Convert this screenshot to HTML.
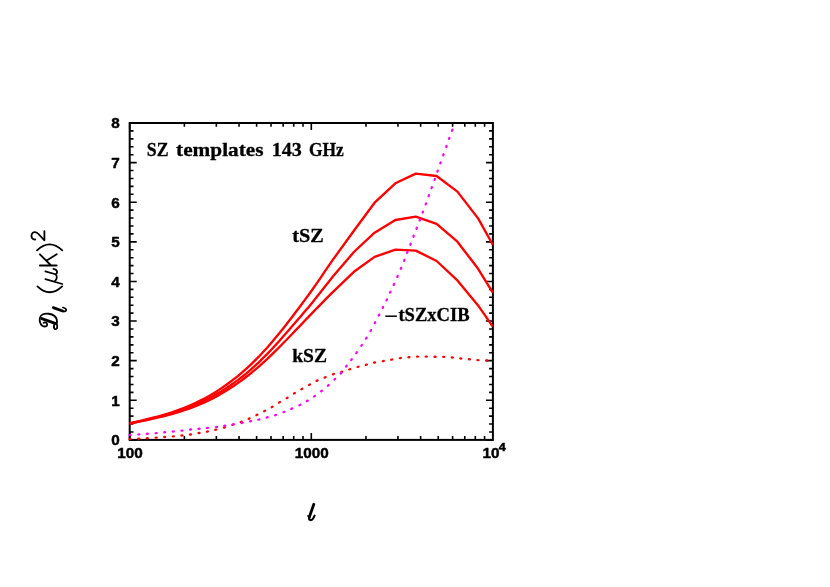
<!DOCTYPE html>
<html><head><meta charset="utf-8"><title>SZ templates 143 GHz</title>
<style>html,body{margin:0;padding:0;background:#fff;}body{width:830px;height:587px;overflow:hidden;font-family:"Liberation Sans",sans-serif;}</style>
</head><body>
<svg width="830" height="587" viewBox="0 0 830 587" style="display:block;will-change:transform;transform:translateZ(0)"><rect width="830" height="587" fill="#fff"/><g stroke="#000" fill="none">
<path d="M129.7,439.90h7.0 M492.9,439.90h-7.0 M129.7,431.98h3.8 M492.9,431.98h-3.8 M129.7,424.05h3.8 M492.9,424.05h-3.8 M129.7,416.13h3.8 M492.9,416.13h-3.8 M129.7,408.21h3.8 M492.9,408.21h-3.8 M129.7,400.29h7.0 M492.9,400.29h-7.0 M129.7,392.36h3.8 M492.9,392.36h-3.8 M129.7,384.44h3.8 M492.9,384.44h-3.8 M129.7,376.52h3.8 M492.9,376.52h-3.8 M129.7,368.60h3.8 M492.9,368.60h-3.8 M129.7,360.67h7.0 M492.9,360.67h-7.0 M129.7,352.75h3.8 M492.9,352.75h-3.8 M129.7,344.83h3.8 M492.9,344.83h-3.8 M129.7,336.91h3.8 M492.9,336.91h-3.8 M129.7,328.98h3.8 M492.9,328.98h-3.8 M129.7,321.06h7.0 M492.9,321.06h-7.0 M129.7,313.14h3.8 M492.9,313.14h-3.8 M129.7,305.22h3.8 M492.9,305.22h-3.8 M129.7,297.29h3.8 M492.9,297.29h-3.8 M129.7,289.37h3.8 M492.9,289.37h-3.8 M129.7,281.45h7.0 M492.9,281.45h-7.0 M129.7,273.53h3.8 M492.9,273.53h-3.8 M129.7,265.61h3.8 M492.9,265.61h-3.8 M129.7,257.68h3.8 M492.9,257.68h-3.8 M129.7,249.76h3.8 M492.9,249.76h-3.8 M129.7,241.84h7.0 M492.9,241.84h-7.0 M129.7,233.91h3.8 M492.9,233.91h-3.8 M129.7,225.99h3.8 M492.9,225.99h-3.8 M129.7,218.07h3.8 M492.9,218.07h-3.8 M129.7,210.15h3.8 M492.9,210.15h-3.8 M129.7,202.22h7.0 M492.9,202.22h-7.0 M129.7,194.30h3.8 M492.9,194.30h-3.8 M129.7,186.38h3.8 M492.9,186.38h-3.8 M129.7,178.46h3.8 M492.9,178.46h-3.8 M129.7,170.53h3.8 M492.9,170.53h-3.8 M129.7,162.61h7.0 M492.9,162.61h-7.0 M129.7,154.69h3.8 M492.9,154.69h-3.8 M129.7,146.77h3.8 M492.9,146.77h-3.8 M129.7,138.84h3.8 M492.9,138.84h-3.8 M129.7,130.92h3.8 M492.9,130.92h-3.8 M129.7,123.00h7.0 M492.9,123.00h-7.0 M129.70,439.9v-7.0 M129.70,123.0v7.0 M184.37,439.9v-3.8 M184.37,123.0v3.8 M216.35,439.9v-3.8 M216.35,123.0v3.8 M239.03,439.9v-3.8 M239.03,123.0v3.8 M256.63,439.9v-3.8 M256.63,123.0v3.8 M271.01,439.9v-3.8 M271.01,123.0v3.8 M283.17,439.9v-3.8 M283.17,123.0v3.8 M293.70,439.9v-3.8 M293.70,123.0v3.8 M302.99,439.9v-3.8 M302.99,123.0v3.8 M311.30,439.9v-7.0 M311.30,123.0v7.0 M365.97,439.9v-3.8 M365.97,123.0v3.8 M397.95,439.9v-3.8 M397.95,123.0v3.8 M420.63,439.9v-3.8 M420.63,123.0v3.8 M438.23,439.9v-3.8 M438.23,123.0v3.8 M452.61,439.9v-3.8 M452.61,123.0v3.8 M464.77,439.9v-3.8 M464.77,123.0v3.8 M475.30,439.9v-3.8 M475.30,123.0v3.8 M484.59,439.9v-3.8 M484.59,123.0v3.8" stroke-width="1.6"/>
<rect x="129.7" y="123.0" width="363.2" height="316.9" stroke-width="2.0"/>
</g>
<g fill="none" stroke="#ff0000" stroke-width="2.35" stroke-linejoin="round" stroke-linecap="butt">
<path d="M129.7,423.4 L134.0,422.4 L138.3,421.3 L142.7,420.3 L147.0,419.2 L151.1,418.2 L155.3,417.1 L159.4,416.1 L163.6,414.9 L167.7,413.7 L171.8,412.4 L176.0,410.9 L180.1,409.4 L184.3,407.8 L188.4,406.1 L192.5,404.3 L196.7,402.4 L200.8,400.3 L205.0,398.2 L209.1,395.9 L213.2,393.5 L217.4,390.9 L221.5,388.1 L225.7,385.2 L229.8,382.2 L233.9,379.1 L238.1,375.8 L242.2,372.3 L246.4,368.7 L250.5,364.9 L254.6,360.9 L258.8,356.7 L262.9,352.3 L267.1,347.7 L271.2,343.0 L275.3,338.1 L279.5,333.1 L283.6,327.9 L287.8,322.6 L291.9,317.2 L296.0,311.8 L300.2,306.3 L304.3,300.6 L308.5,295.0 L312.6,289.2 L316.7,283.3 L320.9,277.3 L325.0,271.2 L329.2,265.1 L333.3,259.2 L353.9,230.7 L374.6,202.7 L395.4,183.3 L415.8,173.6 L436.6,176.0 L457.4,191.6 L478.1,218.4 L492.8,244.7"/>
<path d="M129.7,423.5 L134.0,422.5 L138.3,421.6 L142.7,420.6 L147.0,419.6 L151.1,418.6 L155.3,417.6 L159.4,416.6 L163.6,415.5 L167.7,414.4 L171.8,413.2 L176.0,411.9 L180.1,410.5 L184.3,409.0 L188.4,407.5 L192.5,405.9 L196.7,404.1 L200.8,402.2 L205.0,400.3 L209.1,398.2 L213.2,396.0 L217.4,393.6 L221.5,391.2 L225.7,388.5 L229.8,385.8 L233.9,382.9 L238.1,379.9 L242.2,376.7 L246.4,373.3 L250.5,369.8 L254.6,366.1 L258.8,362.3 L262.9,358.2 L267.1,354.1 L271.2,349.8 L275.3,345.4 L279.5,340.8 L283.6,336.1 L287.8,331.3 L291.9,326.5 L296.0,321.7 L300.2,316.9 L304.3,312.1 L308.5,307.2 L312.6,302.2 L316.7,297.1 L320.9,291.8 L325.0,286.5 L329.2,281.2 L333.3,276.1 L353.9,252.0 L374.6,232.7 L395.4,220.0 L415.8,216.7 L436.6,223.8 L457.4,241.7 L478.1,268.8 L492.8,292.6"/>
<path d="M129.7,423.6 L134.0,422.7 L138.3,421.8 L142.7,420.9 L147.0,420.0 L151.1,419.1 L155.3,418.2 L159.4,417.2 L163.6,416.3 L167.7,415.2 L171.8,414.1 L176.0,412.9 L180.1,411.6 L184.3,410.2 L188.4,408.8 L192.5,407.3 L196.7,405.7 L200.8,404.0 L205.0,402.1 L209.1,400.2 L213.2,398.1 L217.4,395.9 L221.5,393.6 L225.7,391.1 L229.8,388.5 L233.9,385.8 L238.1,382.9 L242.2,380.0 L246.4,376.8 L250.5,373.6 L254.6,370.2 L258.8,366.6 L262.9,362.9 L267.1,359.1 L271.2,355.2 L275.3,351.2 L279.5,347.0 L283.6,342.8 L287.8,338.5 L291.9,334.2 L296.0,329.9 L300.2,325.6 L304.3,321.2 L308.5,316.9 L312.6,312.6 L316.7,308.3 L320.9,304.1 L325.0,299.9 L329.2,295.7 L333.3,291.6 L353.9,271.8 L374.6,256.9 L395.4,249.7 L415.8,250.6 L436.6,261.0 L457.4,280.4 L478.1,305.4 L492.8,326.7"/>
</g>
<g fill="#ff0000"><ellipse cx="130.1" cy="439.1" rx="1.7" ry="1.2" transform="rotate(-2.6 130.1 439.1)"/><ellipse cx="138.8" cy="438.7" rx="1.7" ry="1.2" transform="rotate(-3.0 138.8 438.7)"/><ellipse cx="147.3" cy="438.2" rx="1.7" ry="1.2" transform="rotate(-3.6 147.3 438.2)"/><ellipse cx="156.1" cy="437.6" rx="1.7" ry="1.2" transform="rotate(-4.0 156.1 437.6)"/><ellipse cx="164.6" cy="437.0" rx="1.7" ry="1.2" transform="rotate(-4.0 164.6 437.0)"/><ellipse cx="173.3" cy="436.4" rx="1.7" ry="1.2" transform="rotate(-5.0 173.3 436.4)"/><ellipse cx="181.9" cy="435.5" rx="1.7" ry="1.2" transform="rotate(-6.3 181.9 435.5)"/><ellipse cx="190.5" cy="434.5" rx="1.7" ry="1.2" transform="rotate(-8.3 190.5 434.5)"/><ellipse cx="199.0" cy="433.0" rx="1.7" ry="1.2" transform="rotate(-9.7 199.0 433.0)"/><ellipse cx="207.4" cy="431.6" rx="1.7" ry="1.2" transform="rotate(-11.1 207.4 431.6)"/><ellipse cx="215.8" cy="429.7" rx="1.7" ry="1.2" transform="rotate(-13.6 215.8 429.7)"/><ellipse cx="224.4" cy="427.5" rx="1.7" ry="1.2" transform="rotate(-16.7 224.4 427.5)"/><ellipse cx="232.8" cy="424.6" rx="1.7" ry="1.2" transform="rotate(-18.4 232.8 424.6)"/><ellipse cx="241.2" cy="421.9" rx="1.7" ry="1.2" transform="rotate(-20.2 241.2 421.9)"/><ellipse cx="249.1" cy="418.6" rx="1.7" ry="1.2" transform="rotate(-24.0 249.1 418.6)"/><ellipse cx="256.9" cy="414.9" rx="1.7" ry="1.2" transform="rotate(-26.1 256.9 414.9)"/><ellipse cx="264.6" cy="411.0" rx="1.7" ry="1.2" transform="rotate(-27.5 264.6 411.0)"/><ellipse cx="272.1" cy="407.0" rx="1.7" ry="1.2" transform="rotate(-30.3 272.1 407.0)"/><ellipse cx="279.5" cy="402.3" rx="1.7" ry="1.2" transform="rotate(-31.2 279.5 402.3)"/><ellipse cx="287.1" cy="397.9" rx="1.7" ry="1.2" transform="rotate(-31.4 287.1 397.9)"/><ellipse cx="294.4" cy="393.2" rx="1.7" ry="1.2" transform="rotate(-31.2 294.4 393.2)"/><ellipse cx="301.8" cy="389.0" rx="1.7" ry="1.2" transform="rotate(-29.4 301.8 389.0)"/><ellipse cx="309.5" cy="384.7" rx="1.7" ry="1.2" transform="rotate(-28.5 309.5 384.7)"/><ellipse cx="317.1" cy="380.7" rx="1.7" ry="1.2" transform="rotate(-25.4 317.1 380.7)"/><ellipse cx="325.1" cy="377.3" rx="1.7" ry="1.2" transform="rotate(-22.0 325.1 377.3)"/><ellipse cx="333.4" cy="374.1" rx="1.7" ry="1.2" transform="rotate(-18.1 333.4 374.1)"/><ellipse cx="341.6" cy="371.9" rx="1.7" ry="1.2" transform="rotate(-16.4 341.6 371.9)"/><ellipse cx="349.7" cy="369.3" rx="1.7" ry="1.2" transform="rotate(-17.3 349.7 369.3)"/><ellipse cx="358.0" cy="366.8" rx="1.7" ry="1.2" transform="rotate(-15.4 358.0 366.8)"/><ellipse cx="366.4" cy="364.7" rx="1.7" ry="1.2" transform="rotate(-14.5 366.4 364.7)"/><ellipse cx="374.6" cy="362.5" rx="1.7" ry="1.2" transform="rotate(-12.0 374.6 362.5)"/><ellipse cx="383.3" cy="361.1" rx="1.7" ry="1.2" transform="rotate(-9.6 383.3 361.1)"/><ellipse cx="391.7" cy="359.6" rx="1.7" ry="1.2" transform="rotate(-10.0 391.7 359.6)"/><ellipse cx="400.3" cy="358.1" rx="1.7" ry="1.2" transform="rotate(-7.9 400.3 358.1)"/><ellipse cx="408.9" cy="357.2" rx="1.7" ry="1.2" transform="rotate(-5.0 408.9 357.2)"/><ellipse cx="417.5" cy="356.6" rx="1.7" ry="1.2" transform="rotate(-2.0 417.5 356.6)"/><ellipse cx="426.2" cy="356.6" rx="1.7" ry="1.2" transform="rotate(0.3 426.2 356.6)"/><ellipse cx="435.0" cy="356.7" rx="1.7" ry="1.2" transform="rotate(1.0 435.0 356.7)"/><ellipse cx="443.7" cy="356.9" rx="1.7" ry="1.2" transform="rotate(2.6 443.7 356.9)"/><ellipse cx="452.3" cy="357.5" rx="1.7" ry="1.2" transform="rotate(5.3 452.3 357.5)"/><ellipse cx="460.8" cy="358.5" rx="1.7" ry="1.2" transform="rotate(6.0 460.8 358.5)"/><ellipse cx="469.4" cy="359.3" rx="1.7" ry="1.2" transform="rotate(5.3 469.4 359.3)"/><ellipse cx="478.0" cy="360.1" rx="1.7" ry="1.2" transform="rotate(4.0 478.0 360.1)"/><ellipse cx="486.7" cy="360.5" rx="1.7" ry="1.2" transform="rotate(2.6 486.7 360.5)"/></g>
<g fill="#ff00ff"><ellipse cx="130.1" cy="435.0" rx="1.7" ry="1.2" transform="rotate(-3.9 130.1 435.0)"/><ellipse cx="138.8" cy="434.4" rx="1.7" ry="1.2" transform="rotate(-4.0 138.8 434.4)"/><ellipse cx="147.3" cy="433.8" rx="1.7" ry="1.2" transform="rotate(-4.3 147.3 433.8)"/><ellipse cx="156.1" cy="433.1" rx="1.7" ry="1.2" transform="rotate(-5.3 156.1 433.1)"/><ellipse cx="164.6" cy="432.2" rx="1.7" ry="1.2" transform="rotate(-5.3 164.6 432.2)"/><ellipse cx="173.3" cy="431.5" rx="1.7" ry="1.2" transform="rotate(-5.3 173.3 431.5)"/><ellipse cx="181.9" cy="430.6" rx="1.7" ry="1.2" transform="rotate(-6.6 181.9 430.6)"/><ellipse cx="190.5" cy="429.5" rx="1.7" ry="1.2" transform="rotate(-6.3 190.5 429.5)"/><ellipse cx="199.0" cy="428.7" rx="1.7" ry="1.2" transform="rotate(-5.1 199.0 428.7)"/><ellipse cx="207.4" cy="428.0" rx="1.7" ry="1.2" transform="rotate(-5.5 207.4 428.0)"/><ellipse cx="216.6" cy="427.0" rx="1.7" ry="1.2" transform="rotate(-7.2 216.6 427.0)"/><ellipse cx="224.8" cy="425.8" rx="1.7" ry="1.2" transform="rotate(-8.7 224.8 425.8)"/><ellipse cx="233.5" cy="424.4" rx="1.7" ry="1.2" transform="rotate(-9.5 233.5 424.4)"/><ellipse cx="242.2" cy="422.9" rx="1.7" ry="1.2" transform="rotate(-10.6 242.2 422.9)"/><ellipse cx="250.6" cy="421.2" rx="1.7" ry="1.2" transform="rotate(-11.2 250.6 421.2)"/><ellipse cx="258.8" cy="419.6" rx="1.7" ry="1.2" transform="rotate(-12.9 258.8 419.6)"/><ellipse cx="267.2" cy="417.4" rx="1.7" ry="1.2" transform="rotate(-15.1 267.2 417.4)"/><ellipse cx="275.5" cy="415.1" rx="1.7" ry="1.2" transform="rotate(-17.9 275.5 415.1)"/><ellipse cx="283.9" cy="412.0" rx="1.7" ry="1.2" transform="rotate(-21.4 283.9 412.0)"/><ellipse cx="291.8" cy="408.7" rx="1.7" ry="1.2" transform="rotate(-23.6 291.8 408.7)"/><ellipse cx="299.9" cy="405.0" rx="1.7" ry="1.2" transform="rotate(-26.7 299.9 405.0)"/><ellipse cx="307.3" cy="400.9" rx="1.7" ry="1.2" transform="rotate(-31.1 307.3 400.9)"/><ellipse cx="314.5" cy="396.2" rx="1.7" ry="1.2" transform="rotate(-34.9 314.5 396.2)"/><ellipse cx="321.5" cy="391.0" rx="1.7" ry="1.2" transform="rotate(-38.0 321.5 391.0)"/><ellipse cx="328.3" cy="385.4" rx="1.7" ry="1.2" transform="rotate(-41.6 328.3 385.4)"/><ellipse cx="334.8" cy="379.2" rx="1.7" ry="1.2" transform="rotate(-44.1 334.8 379.2)"/><ellipse cx="341.0" cy="373.1" rx="1.7" ry="1.2" transform="rotate(-48.5 341.0 373.1)"/><ellipse cx="346.4" cy="366.1" rx="1.7" ry="1.2" transform="rotate(-52.1 346.4 366.1)"/><ellipse cx="351.5" cy="359.6" rx="1.7" ry="1.2" transform="rotate(-53.0 351.5 359.6)"/><ellipse cx="356.5" cy="352.7" rx="1.7" ry="1.2" transform="rotate(-54.6 356.5 352.7)"/><ellipse cx="361.6" cy="345.4" rx="1.7" ry="1.2" transform="rotate(-55.9 361.6 345.4)"/><ellipse cx="366.3" cy="338.2" rx="1.7" ry="1.2" transform="rotate(-58.1 366.3 338.2)"/><ellipse cx="370.8" cy="330.6" rx="1.7" ry="1.2" transform="rotate(-60.7 370.8 330.6)"/><ellipse cx="375.0" cy="322.7" rx="1.7" ry="1.2" transform="rotate(-62.1 375.0 322.7)"/><ellipse cx="379.0" cy="315.1" rx="1.7" ry="1.2" transform="rotate(-62.5 379.0 315.1)"/><ellipse cx="382.9" cy="307.5" rx="1.7" ry="1.2" transform="rotate(-63.1 382.9 307.5)"/><ellipse cx="386.7" cy="299.9" rx="1.7" ry="1.2" transform="rotate(-64.2 386.7 299.9)"/><ellipse cx="390.3" cy="292.2" rx="1.7" ry="1.2" transform="rotate(-65.1 390.3 292.2)"/><ellipse cx="393.9" cy="284.4" rx="1.7" ry="1.2" transform="rotate(-65.5 393.9 284.4)"/><ellipse cx="397.5" cy="276.4" rx="1.7" ry="1.2" transform="rotate(-66.2 397.5 276.4)"/><ellipse cx="401.0" cy="268.3" rx="1.7" ry="1.2" transform="rotate(-67.0 401.0 268.3)"/><ellipse cx="404.3" cy="260.4" rx="1.7" ry="1.2" transform="rotate(-68.4 404.3 260.4)"/><ellipse cx="407.3" cy="252.4" rx="1.7" ry="1.2" transform="rotate(-68.9 407.3 252.4)"/><ellipse cx="410.5" cy="244.3" rx="1.7" ry="1.2" transform="rotate(-68.6 410.5 244.3)"/><ellipse cx="413.6" cy="236.3" rx="1.7" ry="1.2" transform="rotate(-68.8 413.6 236.3)"/><ellipse cx="416.7" cy="228.3" rx="1.7" ry="1.2" transform="rotate(-69.2 416.7 228.3)"/><ellipse cx="419.8" cy="220.0" rx="1.7" ry="1.2" transform="rotate(-69.6 419.8 220.0)"/><ellipse cx="422.8" cy="212.1" rx="1.7" ry="1.2" transform="rotate(-69.2 422.8 212.1)"/><ellipse cx="425.9" cy="203.9" rx="1.7" ry="1.2" transform="rotate(-69.7 425.9 203.9)"/><ellipse cx="428.8" cy="195.7" rx="1.7" ry="1.2" transform="rotate(-70.3 428.8 195.7)"/><ellipse cx="431.7" cy="187.7" rx="1.7" ry="1.2" transform="rotate(-70.1 431.7 187.7)"/><ellipse cx="434.7" cy="179.4" rx="1.7" ry="1.2" transform="rotate(-70.3 434.7 179.4)"/><ellipse cx="437.6" cy="171.2" rx="1.7" ry="1.2" transform="rotate(-70.6 437.6 171.2)"/><ellipse cx="440.5" cy="162.9" rx="1.7" ry="1.2" transform="rotate(-70.5 440.5 162.9)"/><ellipse cx="443.4" cy="154.8" rx="1.7" ry="1.2" transform="rotate(-70.2 443.4 154.8)"/><ellipse cx="446.4" cy="146.5" rx="1.7" ry="1.2" transform="rotate(-70.5 446.4 146.5)"/><ellipse cx="449.2" cy="138.4" rx="1.7" ry="1.2" transform="rotate(-70.3 449.2 138.4)"/><ellipse cx="452.2" cy="130.3" rx="1.7" ry="1.2" transform="rotate(-69.7 452.2 130.3)"/></g>
<g font-family="'Liberation Sans', sans-serif" font-weight="bold" font-size="14.6" fill="#000" stroke="#000" stroke-width="0.45" stroke-linejoin="round">
<text x="111.20" y="445.20" textLength="8.5" lengthAdjust="spacingAndGlyphs">0</text>
<text x="111.20" y="405.59" textLength="8.5" lengthAdjust="spacingAndGlyphs">1</text>
<text x="111.20" y="365.97" textLength="8.5" lengthAdjust="spacingAndGlyphs">2</text>
<text x="111.20" y="326.36" textLength="8.5" lengthAdjust="spacingAndGlyphs">3</text>
<text x="111.20" y="286.75" textLength="8.5" lengthAdjust="spacingAndGlyphs">4</text>
<text x="111.20" y="247.14" textLength="8.5" lengthAdjust="spacingAndGlyphs">5</text>
<text x="111.20" y="207.53" textLength="8.5" lengthAdjust="spacingAndGlyphs">6</text>
<text x="111.20" y="167.91" textLength="8.5" lengthAdjust="spacingAndGlyphs">7</text>
<text x="111.20" y="128.30" textLength="8.5" lengthAdjust="spacingAndGlyphs">8</text>
<text x="117.30" y="457.5" textLength="25.5" lengthAdjust="spacingAndGlyphs">100</text>
<text x="294.75" y="457.5" textLength="34.0" lengthAdjust="spacingAndGlyphs">1000</text>
<text x="482.4" y="457.5" textLength="17.0" lengthAdjust="spacingAndGlyphs">10</text>
<text x="498.7" y="450.7" font-size="11.6" textLength="7.0" lengthAdjust="spacingAndGlyphs">4</text>
</g>
<g font-family="'Liberation Serif', serif" font-weight="bold" font-size="19" fill="#000" stroke="#000" stroke-width="0.3">
<text x="146.80" y="155.5" textLength="21.70" lengthAdjust="spacingAndGlyphs">SZ</text>
<text x="176.10" y="155.5" textLength="87.40" lengthAdjust="spacingAndGlyphs">templates</text>
<text x="271.70" y="155.5" textLength="30.10" lengthAdjust="spacingAndGlyphs">143</text>
<text x="308.90" y="155.5" textLength="34.90" lengthAdjust="spacingAndGlyphs">GHz</text>
<text x="292.20" y="241.9" textLength="31.50" lengthAdjust="spacingAndGlyphs">tSZ</text>
<text x="292.20" y="361.5" textLength="34.80" lengthAdjust="spacingAndGlyphs">kSZ</text>
<text x="398.40" y="321.3" textLength="71.20" lengthAdjust="spacingAndGlyphs">tSZxCIB</text>
</g>
<path d="M385.3,316.2h11.6" stroke="#000" stroke-width="1.5" fill="none"/>
<g stroke="#000" fill="none" stroke-linecap="round" stroke-linejoin="round">
<path d="M313.8,504.2 L309.3,517.3" stroke-width="2.8"/>
<path d="M309.2,517.2 C308.4,520.6 311.4,520.9 312.8,518.8 C313.6,517.7 314.2,516.6 314.6,515.6" stroke-width="2.1"/>
<path d="M307.6,515.9 L309.4,516.6" stroke-width="1.4"/>
</g>
<g stroke="#000" fill="none" stroke-width="1.8" stroke-linecap="round" stroke-linejoin="round">
<path d="M44.4,231.1 L44.4,240.3 L38.5,234.0 C36.5,231.8 33.5,231.3 32.2,233.4 C31.0,235.4 31.3,238.0 33.0,239.0 C33.8,239.5 34.6,239.6 35.2,239.5"/>
<path d="M37.0,250.3 Q49.6,238.5 62.3,250.3"/>
<path d="M39.9,265.5 L56.7,265.5 M39.9,254.3 L51.1,265.5 M46.3,260.7 L56.7,254.3"/>
<path d="M45.4,279.1 L62.3,284.0 M45.4,271.4 L54.5,274.0 C56.5,274.5 57.3,273.0 57.0,271.4 C56.6,269.8 55.0,269.0 53.4,268.8 M55.6,274.3 C57.4,276.0 57.2,279.0 55.0,280.9"/>
<path d="M37.4,286.4 Q49.75,298.2 62.1,286.4"/>
<path d="M53.3,307.6 L62.6,311.0" stroke-width="2.8"/>
<path d="M62.4,310.9 C64.5,311.8 66.0,311.3 66.2,310.2 C66.4,309.0 64.8,308.0 63.0,307.5" stroke-width="1.7"/>
<path d="M56.6,324.0 C57.4,321.0 56.8,318.0 54.5,316.0 C51.5,313.5 46.0,313.0 42.5,314.5 C39.5,316.0 39.3,320.0 40.2,322.8 C41.2,325.6 43.6,326.8 45.8,326.4 C47.4,326.0 47.5,324.0 46.4,322.9 C45.4,322.0 44.2,322.2 43.6,322.9"/>
<path d="M41.7,318.6 L55.2,323.3" stroke-width="2.9"/>
<path d="M55.2,323.3 C54.0,325.0 53.4,327.3 54.4,328.6 C55.4,329.7 57.0,329.0 57.2,327.4 C57.4,326.0 57.0,324.6 56.6,324.0"/>
</g></svg>
</body></html>
